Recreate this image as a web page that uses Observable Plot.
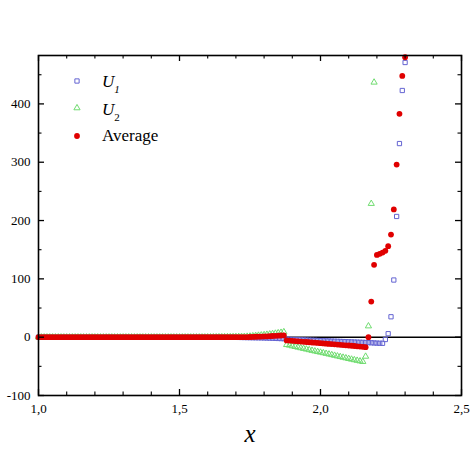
<!DOCTYPE html>
<html><head><meta charset="utf-8">
<script src="https://cdn.jsdelivr.net/npm/d3@7"></script>
<script src="https://cdn.jsdelivr.net/npm/@observablehq/plot@0.6"></script>
<style>body{margin:0;background:#fff}#chart{width:474px;height:474px}</style>
</head><body><div id="chart"></div>
<script>
// x grid (sampling points)
const xGrid = [
1.00,1.01,1.02,1.03,1.04,1.05,1.06,1.07,1.08,1.09,
1.10,1.11,1.12,1.13,1.14,1.15,1.16,1.17,1.18,1.19,
1.20,1.21,1.22,1.23,1.24,1.25,1.26,1.27,1.28,1.29,
1.30,1.31,1.32,1.33,1.34,1.35,1.36,1.37,1.38,1.39,
1.40,1.41,1.42,1.43,1.44,1.45,1.46,1.47,1.48,1.49,
1.50,1.51,1.52,1.53,1.54,1.55,1.56,1.57,1.58,1.59,
1.60,1.61,1.62,1.63,1.64,1.65,1.66,1.67,1.68,1.69,
1.70,1.71,1.72,1.73,1.74,1.75,1.76,1.77,1.78,1.79,
1.80,1.81,1.82,1.83,1.84,1.85,1.86,1.87,1.88,1.89,
1.90,1.91,1.92,1.93,1.94,1.95,1.96,1.97,1.98,1.99,
2.00,2.01,2.02,2.03,2.04,2.05,2.06,2.07,2.08,2.09,
2.10,2.11,2.12,2.13,2.14,2.15,2.16,2.17,2.18,2.19,
2.20,2.21,2.22,2.23,2.24,2.25,2.26,2.27,2.28,2.29,
2.30];

const u1Values = [
0,0,0,0,0,0,0,0,0,0,
0,0,0,0,0,0,0,0,0,0,
0,0,0,0,0,0,0,0,0,0,
0,0,0,0,0,0,0,0,0,0,
0,0,0,0,0,0,0,0,0,0,
0,0,0,0,0,0,0,0,0,0,
0,0,0,0,0,0,0,0,0,0,
-0.3,-0.4,-0.5,-0.6,-0.7,-0.8,-0.9,-1.0,-1.1,-1.2,
-1.3,-1.5,-1.6,-1.8,-2.0,-2.2,-2.4,-2.6,-3.5,-3.7,
-3.9,-4.1,-4.3,-4.5,-4.7,-4.9,-5.1,-5.3,-5.5,-5.7,
-5.9,-6.1,-6.3,-6.5,-6.7,-6.9,-7.1,-7.3,-7.5,-7.7,
-7.9,-8.1,-8.3,-8.5,-8.7,-8.9,-9.1,-9.3,-9.6,-9.9,
-10.2,-10.4,-10.5,-4,6,35,98,207,332,423,
471];

const u2Values = [
0,0,0,0,0,0,0,0,0,0,
0,0,0,0,0,0,0,0,0,0,
0,0,0,0,0,0,0,0,0,0,
0,0,0,0,0,0,0,0,0,0,
0,0,0,0,0,0,0,0,0,0,
0,0,0,0,0,0,0,0,0,0,
0.1,0.1,0.2,0.2,0.3,0.3,0.4,0.5,0.5,0.6,
0.7,0.8,0.9,1.0,1.2,1.5,2.0,2.5,3.0,3.5,
4.0,4.6,5.2,5.8,6.5,7.2,8.0,9.0,-13,-14,
-15.2,-16.3,-17.4,-18.5,-19.6,-20.7,-21.8,-22.9,-24,-25,
-26,-27,-28.1,-29.2,-30.3,-31.4,-32.5,-33.6,-34.7,-35.8,
-36.9,-38,-39,-40,-41,-42,-33,19,229,437];

const avgValues = [
0,0,0,0,0,0,0,0,0,0,
0,0,0,0,0,0,0,0,0,0,
0,0,0,0,0,0,0,0,0,0,
0,0,0,0,0,0,0,0,0,0,
0,0,0,0,0,0,0,0,0,0,
0,0,0,0,0,0,0,0,0,0,
0,0,0,0,0,0,0,0,0,0,
0,0,0,0,0,0.3,0.5,0.7,0.9,1.1,
1.3,1.5,1.7,2.0,2.3,2.6,2.9,3.2,-5.5,-5.9,
-6.3,-6.7,-7.1,-7.5,-7.9,-8.3,-8.7,-9.1,-9.5,-9.9,
-10.3,-10.7,-11.1,-11.5,-11.9,-12.3,-12.7,-13.1,-13.5,-13.9,
-14.3,-14.7,-15.1,-15.6,-16.1,-16.6,-17.2,0,61,124,
141,143,145,148,156,176,219,296,383,448,
480];

const xMajor = [1.0, 1.5, 2.0, 2.5];
const xTickLabels = ["1,0", "1,5", "2,0", "2,5"];
const xMinor = [1.1,1.2,1.3,1.4,1.6,1.7,1.8,1.9,2.1,2.2,2.3,2.4];
const yMajor = [-100, 0, 100, 200, 300, 400];
const yMinor = [-50, 50, 150, 250, 350, 450];
const seriesNames = ["U1", "U2", "Average"];
const xTitle = "x";

const FONT = "'Liberation Serif', 'DejaVu Serif', serif";
const C1 = "#6464d2", C2 = "#6fdc6f", C3 = "#e00000";

const W = 474, H = 474, mL = 38, mR = 13, mT = 55, mB = 79;
const fw = W - mL - mR, fh = H - mT - mB;

const u1 = xGrid.map((x, i) => ({x, y: u1Values[i]}));
const u2 = u2Values.map((y, i) => ({x: xGrid[i], y}));
const avg = xGrid.map((x, i) => ({x, y: avgValues[i]}));

const plot = Plot.plot({
  width: W, height: H,
  marginLeft: mL, marginRight: mR, marginTop: mT, marginBottom: mB,
  style: {fontFamily: FONT, fontSize: "13px", background: "#fff", color: "#000"},
  x: {domain: [1.0, 2.5], label: null},
  y: {domain: [-100, 483], label: null},
  marks: [
    Plot.ruleY([0], {stroke: "#000", strokeWidth: 1.6}),
    Plot.dot(u1, {x: "x", y: "y", symbol: "square", r: 2.4, stroke: C1, strokeWidth: 1, fill: "none"}),
    Plot.dot(u2, {x: "x", y: "y", symbol: "triangle", r: 2.3, stroke: C2, strokeWidth: 1, fill: "none"}),
    Plot.dot(avg, {x: "x", y: "y", r: 2.9, fill: C3, stroke: "none"}),
    // inward ticks on all four sides
    Plot.ruleX(xMajor, {x: d => d, insetTop: fh - 6, stroke: "#000", strokeWidth: 1.3}),
    Plot.ruleX(xMajor, {x: d => d, insetBottom: fh - 6, stroke: "#000", strokeWidth: 1.3}),
    Plot.ruleX(xMinor, {x: d => d, insetTop: fh - 3.5, stroke: "#000", strokeWidth: 1.1}),
    Plot.ruleX(xMinor, {x: d => d, insetBottom: fh - 3.5, stroke: "#000", strokeWidth: 1.1}),
    Plot.ruleY(yMajor, {y: d => d, insetRight: fw - 6, stroke: "#000", strokeWidth: 1.3}),
    Plot.ruleY(yMajor, {y: d => d, insetLeft: fw - 6, stroke: "#000", strokeWidth: 1.3}),
    Plot.ruleY(yMinor, {y: d => d, insetRight: fw - 3.5, stroke: "#000", strokeWidth: 1.1}),
    Plot.ruleY(yMinor, {y: d => d, insetLeft: fw - 3.5, stroke: "#000", strokeWidth: 1.1}),
    Plot.frame({stroke: "#000", strokeWidth: 1.6}),
    Plot.axisX({ticks: xMajor, tickFormat: d => xTickLabels[xMajor.indexOf(d)], tickSize: 0, tickPadding: 8, fontSize: 13, label: null}),
    Plot.axisY({ticks: yMajor, tickFormat: d => String(d), tickSize: 0, tickPadding: 8, fontSize: 13, label: null}),
    Plot.text([xTitle], {text: d => d, frameAnchor: "bottom", dy: 46, fontSize: 25, fontStyle: "italic", fill: "#000"})
  ]
});

document.getElementById("chart").appendChild(plot);

// legend
const svg = d3.select(plot);
const lg = svg.append("g").attr("font-family", FONT).attr("fill", "#000").attr("text-anchor", "start");
const symX = 77, txtX = 102;
const rows = [
  {sym: d3.symbolSquare, r: 2.4, stroke: C1, fill: "none", y: 81},
  {sym: d3.symbolTriangle, r: 2.3, stroke: C2, fill: "none", y: 108},
  {sym: d3.symbolCircle, r: 2.9, stroke: "none", fill: C3, y: 136}
];
rows.forEach(r => {
  lg.append("path")
    .attr("d", d3.symbol(r.sym, Math.PI * r.r * r.r)())
    .attr("transform", `translate(${symX},${r.y})`)
    .attr("fill", r.fill).attr("stroke", r.stroke).attr("stroke-width", 1);
});
const t1 = lg.append("text").attr("x", txtX).attr("y", 87).attr("font-size", 17).attr("text-anchor", "start");
t1.append("tspan").attr("font-style", "italic").text(seriesNames[0].slice(0, 1));
t1.append("tspan").attr("font-style", "italic").attr("font-size", 11).attr("dy", 6).text(seriesNames[0].slice(1));
const t2 = lg.append("text").attr("x", txtX).attr("y", 115).attr("font-size", 17).attr("text-anchor", "start");
t2.append("tspan").attr("font-style", "italic").text(seriesNames[1].slice(0, 1));
t2.append("tspan").attr("font-size", 11).attr("dy", 6).text(seriesNames[1].slice(1));
lg.append("text").attr("x", txtX).attr("y", 141).attr("font-size", 17).attr("text-anchor", "start").text(seriesNames[2]);
</script>
</body></html>
